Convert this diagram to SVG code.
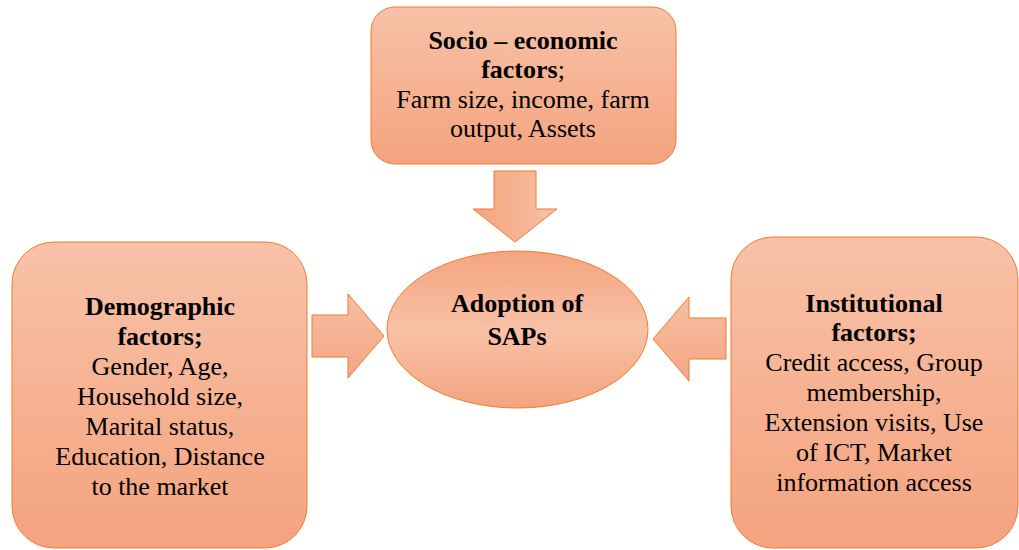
<svg xmlns="http://www.w3.org/2000/svg" width="1019" height="550" viewBox="0 0 1019 550">
<defs>
<linearGradient id="gBox" x1="0" y1="0" x2="0" y2="1">
<stop offset="0" stop-color="#f8c2a8"/>
<stop offset="1" stop-color="#f4a37e"/>
</linearGradient>
<linearGradient id="gEll" x1="0" y1="0" x2="0" y2="1">
<stop offset="0" stop-color="#f4a47f"/>
<stop offset="0.5" stop-color="#f8c1a6"/>
<stop offset="1" stop-color="#f4a47f"/>
</linearGradient>
<linearGradient id="gDown" x1="0" y1="0" x2="1" y2="0">
<stop offset="0" stop-color="#f4a47f"/>
<stop offset="1" stop-color="#f8c0a4"/>
</linearGradient>
<linearGradient id="gSide" x1="0" y1="0" x2="0" y2="1">
<stop offset="0" stop-color="#f8bea2"/>
<stop offset="1" stop-color="#f4a682"/>
</linearGradient>
</defs>
<style>
.box{stroke:#ed7d31;stroke-width:1;fill:url(#gBox)}
.arr{stroke:#ed7d31;stroke-width:1}
text{font-size:26px;fill:#000;text-anchor:middle}
.b{font-weight:bold}
</style>
<rect width="1019" height="550" fill="#fff"/>
<g id="connectors">
<polygon class="arr" fill="url(#gDown)" points="494,171 536,171 536,209 557,209 515,242 473,209 494,209"/>
<polygon class="arr" fill="url(#gSide)" points="312,315 348,315 348,294 384,336 348,378 348,357 312,357"/>
<polygon class="arr" fill="url(#gSide)" points="726,318 689,318 689,297 653,339 689,381 689,359 726,359"/>
</g>
<g font-family="'Liberation Serif', 'DejaVu Serif', serif">
<g id="socio">
<rect class="box" x="371" y="7" width="305" height="157" rx="24" ry="24"/>
<text x="523" y="49"><tspan class="b">Socio – economic</tspan></text>
<text x="523" y="78"><tspan class="b">factors</tspan>;</text>
<text x="523" y="108">Farm size, income, farm</text>
<text x="523" y="137">output, Assets</text>
</g>
<g id="demographic">
<rect class="box" x="12" y="242" width="295" height="306" rx="42" ry="42"/>
<text class="b" x="160" y="315">Demographic</text>
<text class="b" x="160" y="345">factors;</text>
<text x="160" y="375">Gender, Age,</text>
<text x="160" y="405">Household size,</text>
<text x="160" y="435">Marital status,</text>
<text x="160" y="465">Education, Distance</text>
<text x="160" y="495">to the market</text>
</g>
<g id="adoption">
<ellipse cx="517.5" cy="329.5" rx="130.5" ry="78.5" fill="url(#gEll)" stroke="#ed7d31" stroke-width="1"/>
<text class="b" x="517" y="312">Adoption of</text>
<text class="b" x="517" y="345">SAPs</text>
</g>
<g id="institutional">
<rect class="box" x="731" y="237" width="287" height="311" rx="42" ry="42"/>
<text class="b" x="874" y="312">Institutional</text>
<text class="b" x="874" y="341">factors;</text>
<text x="874" y="371">Credit access, Group</text>
<text x="874" y="401">membership,</text>
<text x="874" y="431">Extension visits, Use</text>
<text x="874" y="461">of ICT, Market</text>
<text x="874" y="491">information access</text>
</g>
</g>
</svg>
